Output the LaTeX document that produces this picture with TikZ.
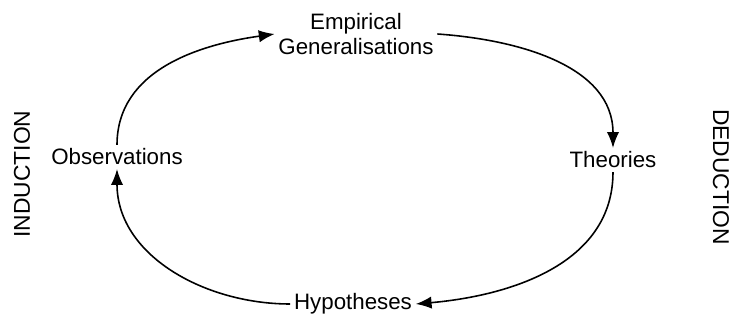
\documentclass[tikz,border=0pt]{standalone}
\usepackage{fontspec}
\setmainfont{Liberation Sans}
\usetikzlibrary{arrows.meta}

\begin{document}
\begin{tikzpicture}[
  x=0.02cm, y=-0.02cm,
  every node/.style={font=\fontsize{12.7}{14.7}\selectfont, inner sep=2pt},
  stage/.style={align=center},
  side/.style={font=\fontsize{13}{15}\selectfont},
  link/.style={line width=0.9pt, -{Latex[length=9pt, width=7pt]}}
]

% Canvas (pixel units, y downwards)
\useasboundingbox (0,0) rectangle (741,320);

% ============================================================
% Stages of the research cycle
% ============================================================
\node[stage] (emp)  at (356,34)  {Empirical\\Generalisations};
\node[stage] (theo) at (613,160) {Theories};
\node[stage] (hyp)  at (353,304) {Hypotheses};
\node[stage] (obs)  at (117,157) {Observations};

% Side labels
\node[side, rotate=90]  (ind) at (22,174)  {INDUCTION};
\node[side, rotate=-90] (ded) at (721,177) {DEDUCTION};

% ============================================================
% Cycle arrows
% ============================================================
\draw[link] (obs.north)  to[out=90,  in=188] (emp.west);
\draw[link] (emp.east)   to[out=-4,  in=90]  (theo.north);
\draw[link] (theo.south) to[out=-90, in=5]   (hyp.east);
\draw[link] (hyp.west)   to[out=180, in=-90] (obs.south);

\end{tikzpicture}
\end{document}
